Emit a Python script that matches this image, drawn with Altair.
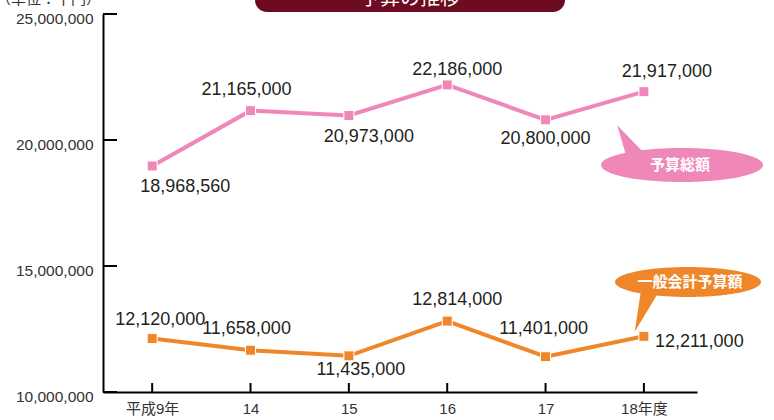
import altair as alt
import pandas as pd
import numpy as np

# ---- data ----
years = ["平成9年", "14", "15", "16", "17", "18年度"]
total_budget = [18968560, 21165000, 20973000, 22186000, 20800000, 21917000]
general_budget = [12120000, 11658000, 11435000, 12814000, 11401000, 12211000]
series_names = ["予算総額", "一般会計予算額"]
y_ticks = [10000000, 15000000, 20000000, 25000000]

PINK = "#EF87B8"
ORANGE = "#F0862A"

rows = []
for i, v in enumerate(total_budget):
    rows.append({"i": i, "value": v, "series": series_names[0]})
for i, v in enumerate(general_budget):
    rows.append({"i": i, "value": v, "series": series_names[1]})
df = pd.DataFrame(rows)
df["label"] = df["value"].map(lambda v: f"{v:,}")

label_expr = "[" + ",".join(f"'{y}'" for y in years) + "][datum.value]"

xs = alt.Scale(domain=[-0.5, 5.54], nice=False, zero=False)
ys = alt.Scale(domain=[10000000, 25000000], nice=False, zero=False)

x_axis = alt.Axis(values=list(range(len(years))), labelExpr=label_expr,
                  ticks=False, grid=False, title=None, labelPadding=9, labelFontSize=15,
                  labelColor="#333333", labelFont="Liberation Sans, Noto Sans CJK JP",
                  domainColor="black", domainWidth=2)
y_axis = alt.Axis(values=y_ticks, format=",.0f", ticks=False, grid=False,
                  title=None, labelPadding=10, labelFontSize=15.5, labelOffset=4,
                  labelColor="#333333", labelFont="Liberation Sans",
                  domainColor="black", domainWidth=2)
X = alt.X("i:Q", scale=xs, axis=x_axis)
Y = alt.Y("value:Q", scale=ys, axis=y_axis)

color = alt.Color("series:N", scale=alt.Scale(domain=series_names, range=[PINK, ORANGE]), legend=None)

base = alt.Chart(df)
lines = base.mark_line(strokeWidth=4).encode(x=X, y=Y, color=color, detail="series:N")
points = base.mark_point(shape="square", filled=True, size=100, stroke="white",
                         strokeWidth=1, opacity=1).encode(x=X, y=Y, color=color)

# inward axis ticks
ytick_df = pd.DataFrame({"value": y_ticks})
yticks = alt.Chart(ytick_df).mark_rule(color="black", strokeWidth=2).encode(
    y=Y, x=alt.value(0), x2=alt.value(14))
xtick_df = pd.DataFrame({"i": list(range(len(years)))})
xticks = alt.Chart(xtick_df).mark_rule(color="black", strokeWidth=2).encode(
    x=X, y=alt.value(378), y2=alt.value(369))

# value labels, offsets per point (layout)
label_layout = {
    (series_names[0], 0): (33, 21, "center"),
    (series_names[0], 1): (-4, -21, "center"),
    (series_names[0], 2): (20, 22, "center"),
    (series_names[0], 3): (10, -15, "center"),
    (series_names[0], 4): (0, 19, "center"),
    (series_names[0], 5): (23, -20, "center"),
    (series_names[1], 0): (8, -19, "center"),
    (series_names[1], 1): (-4, -21, "center"),
    (series_names[1], 2): (12, 14, "center"),
    (series_names[1], 3): (10, -21, "center"),
    (series_names[1], 4): (-2, -28, "center"),
    (series_names[1], 5): (11, 6, "left"),
}
label_layers = []
for (s, i), (dx, dy, al) in label_layout.items():
    label_layers.append(
        base.transform_filter((alt.datum.series == s) & (alt.datum.i == i))
        .mark_text(dx=dx, dy=dy, align=al, baseline="middle", fontSize=18,
                   font="Liberation Sans", color="#231F20")
        .encode(x=X, y=Y, text="label:N")
    )

# callout bubbles
def bubble_path(ry, t1, t2, tip, n=90):
    pts = []
    for t in np.linspace(0, t1, n):
        pts.append((np.cos(t), ry * np.sin(t)))
    pts.append(tip)
    for t in np.linspace(t2, 2 * np.pi, n):
        pts.append((np.cos(t), ry * np.sin(t)))
    return "M" + " L".join(f"{x:.4f},{y:.4f}" for x, y in pts) + " Z"

pink_path = bubble_path(0.21, 2 * np.pi - np.arccos(-0.70), 2 * np.pi - np.arccos(-0.50), (-0.80, -0.49))
orange_path = bubble_path(0.205, np.arccos(-0.43), np.arccos(-0.65), (-0.73, 0.68))

one = alt.Data(values=[{}])
pink_bubble = alt.Chart(one).mark_point(shape=pink_path, filled=True, size=162 * 162,
                                         color=PINK, opacity=1).encode(
    x=alt.value(579), y=alt.value(151))
pink_text = alt.Chart(one).mark_text(text=series_names[0], color="white", fontSize=15,
                                     fontWeight="bold", font="Noto Sans CJK JP",
                                     baseline="middle").encode(x=alt.value(577), y=alt.value(151))
orange_bubble = alt.Chart(one).mark_point(shape=orange_path, filled=True, size=146 * 146,
                                           color=ORANGE, opacity=1).encode(
    x=alt.value(585), y=alt.value(268))
orange_text = alt.Chart(one).mark_text(text=series_names[1], color="white", fontSize=15,
                                       fontWeight="bold", font="Noto Sans CJK JP",
                                       baseline="middle").encode(x=alt.value(587), y=alt.value(268))

# title banner
banner = alt.Chart(one).mark_rect(color="#6D0B22", cornerRadius=12).encode(
    x=alt.value(152), x2=alt.value(462), y=alt.value(-34), y2=alt.value(-2))
banner_text = alt.Chart(one).mark_text(text="予算の推移", color="white", fontSize=20,
                                       font="Noto Sans CJK JP", baseline="alphabetic").encode(
    x=alt.value(307), y=alt.value(-9))
unit_text = alt.Chart(one).mark_text(text="（単位：千円）", color="#333333", fontSize=15,
                                     font="Noto Sans CJK JP", align="left",
                                     baseline="alphabetic").encode(
    x=alt.value(-107), y=alt.value(-10))

chart = alt.layer(
    lines, points, yticks, xticks, *label_layers,
    pink_bubble, pink_text, orange_bubble, orange_text,
    banner, banner_text, unit_text
).properties(
    width=594, height=378,
    autosize=alt.AutoSizeParams(type="none"),
    padding={"left": 103, "top": 14, "right": 77, "bottom": 28},
    background="white",
).configure_view(stroke=None)

chart.save("out.html", embed_options={"renderer": "svg", "actions": False})
